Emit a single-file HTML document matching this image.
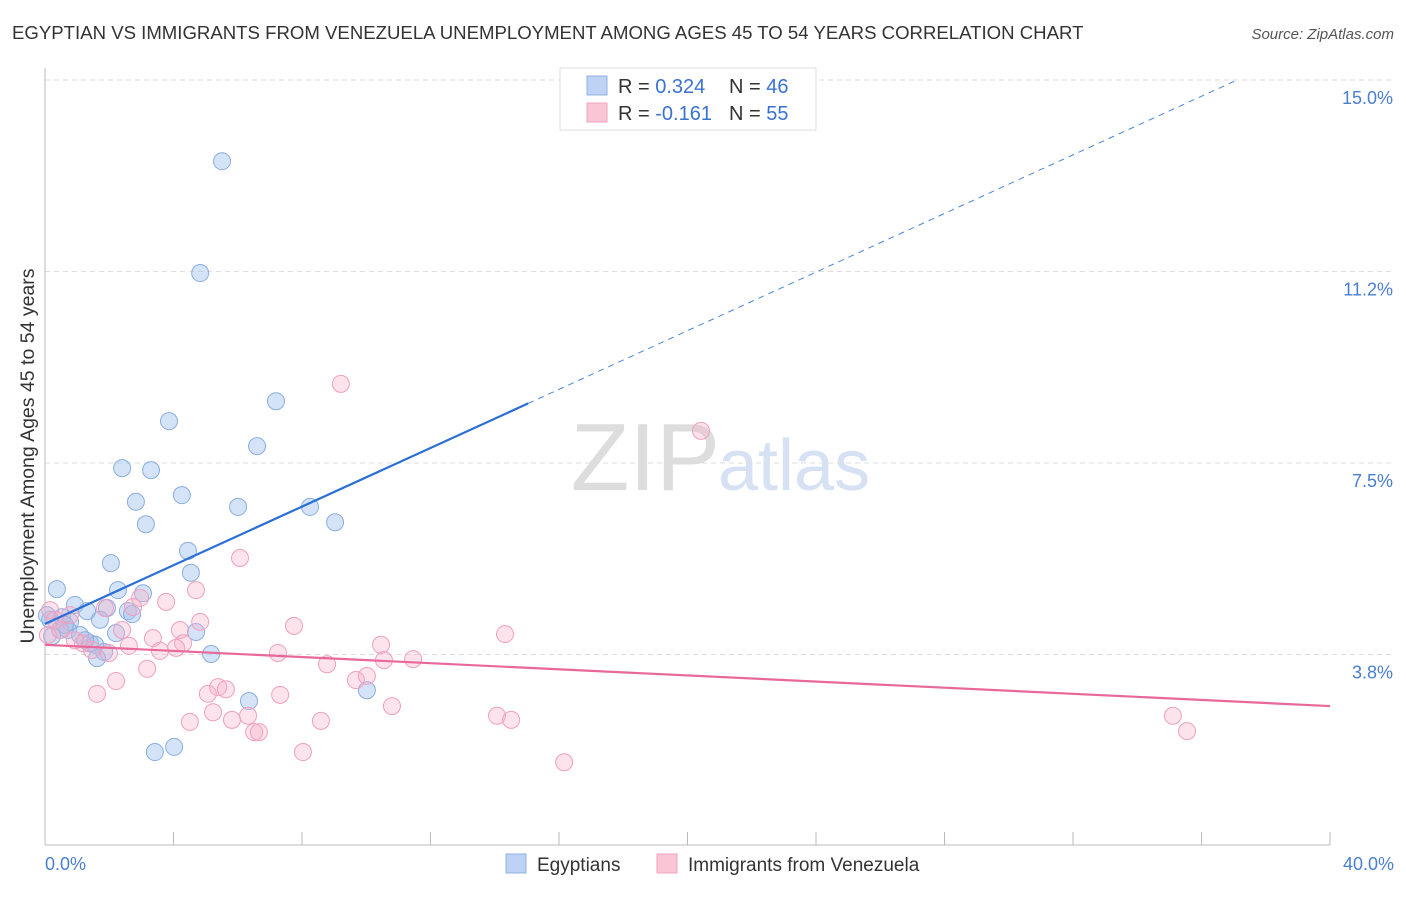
<!DOCTYPE html>
<html><head><meta charset="utf-8"><style>
body{margin:0;background:#fff;font-family:"Liberation Sans",sans-serif;}
svg text{font-family:"Liberation Sans",sans-serif;}
</style></head><body>
<svg id="chart" width="1406" height="892">
<text x="12" y="39" font-size="18.6" fill="#333">EGYPTIAN VS IMMIGRANTS FROM VENEZUELA UNEMPLOYMENT AMONG AGES 45 TO 54 YEARS CORRELATION CHART</text>
<text x="1394" y="39" font-size="15" fill="#555" font-style="italic" text-anchor="end">Source: ZipAtlas.com</text>
<text x="720" y="490" font-size="96" fill="#ddd" font-family="Liberation Serif" text-anchor="end">ZIP</text>
<text x="718" y="490" font-size="72" fill="#d6e2f3">atlas</text>
<g id="grid"></g><g id="axes"></g><g id="marks"></g>
<text transform="translate(34,456) rotate(-90)" font-size="19.5" fill="#333" text-anchor="middle">Unemployment Among Ages 45 to 54 years</text>
<g>
<rect x="560" y="68" width="256" height="62" fill="#fff" stroke="#ddd"/>
<rect x="587" y="76" width="20" height="19" fill="#bcd3f5" stroke="#8fb0e0"/>
<rect x="587" y="103" width="20" height="19" fill="#f9c6d6" stroke="#f0a0be"/>
<text x="618" y="93" font-size="20" fill="#333">R = <tspan fill="#3a72d0">0.324</tspan><tspan x="729">N = </tspan><tspan fill="#3a72d0">46</tspan></text>
<text x="618" y="120" font-size="20" fill="#333">R = <tspan fill="#3a72d0">-0.161</tspan><tspan x="729">N = </tspan><tspan fill="#3a72d0">55</tspan></text>
</g>
<g>
<rect x="506" y="854" width="20" height="19" fill="#bcd3f5" stroke="#8fb0e0"/>
<text x="537" y="871" font-size="19" fill="#333">Egyptians</text>
<rect x="657" y="854" width="20" height="19" fill="#f9c6d6" stroke="#f0a0be"/>
<text x="688" y="871" font-size="19" fill="#333">Immigrants from Venezuela</text>
</g>
</svg>
<script>
const xTickLabels=["0.0%","40.0%"];
const yTicks=[3.75,7.5,11.25,15];
const yTickLabels=["3.8%","7.5%","11.2%","15.0%"];
const blueX=[5.51,4.83,7.19,3.86,6.60,2.40,3.30,4.26,2.83,6.01,8.25,9.03,3.14,4.45,2.05,4.54,0.37,2.27,3.05,0.93,1.93,1.31,2.58,2.71,0.53,1.71,0.16,0.78,0.47,0.72,4.70,2.21,1.09,0.22,1.40,1.56,1.84,5.17,1.62,6.35,10.02,4.02,3.42,1.25,0.06,0.62];
const blueY=[13.41,11.22,8.71,8.32,7.83,7.40,7.36,6.87,6.74,6.64,6.64,6.34,6.30,5.78,5.54,5.35,5.03,5.01,4.95,4.72,4.66,4.60,4.60,4.54,4.48,4.43,4.43,4.39,4.23,4.23,4.19,4.17,4.13,4.11,3.97,3.94,3.80,3.76,3.68,2.84,3.05,1.94,1.84,4.03,4.52,4.33];
const pinkX=[9.21,20.42,6.07,4.70,2.96,3.77,2.74,1.87,4.83,7.75,14.32,2.40,4.20,3.36,4.30,10.46,1.18,2.61,4.08,3.58,7.25,1.99,1.46,8.78,10.55,11.46,3.18,9.68,2.21,5.39,5.63,5.07,1.62,7.32,10.02,10.80,5.23,14.07,35.11,5.82,4.51,6.32,8.59,14.51,35.55,6.51,6.66,8.03,16.16,0.16,0.31,0.78,0.47,0.93,0.09];
const pinkY=[9.05,8.13,5.64,5.01,4.86,4.78,4.68,4.66,4.39,4.31,4.15,4.23,4.23,4.07,3.97,3.94,3.97,3.92,3.88,3.82,3.78,3.78,3.84,3.56,3.64,3.66,3.47,3.25,3.23,3.11,3.07,2.98,2.98,2.96,3.33,2.74,2.62,2.55,2.55,2.47,2.43,2.55,2.45,2.47,2.25,2.23,2.23,1.84,1.64,4.62,4.43,4.52,4.23,4.03,4.13];
const blueTrend=[4.35,0.287];
const pinkTrend=[3.94,-0.03];
const NS="http://www.w3.org/2000/svg";
const X=v=>45+v/40*1285, Y=v=>846-v/15*766;
function mk(tag,at,parent){const e=document.createElementNS(NS,tag);for(const k in at)e.setAttribute(k,at[k]);document.getElementById(parent).appendChild(e);return e;}
yTicks.forEach((t,i)=>{
 const g=mk('line',{x1:45,x2:1394,y1:Y(t),y2:Y(t),stroke:'#ddd','stroke-dasharray':'5,4'},'grid');
 
 
 const l=mk('text',{x:1393,y:Y(t)+24,'font-size':18,fill:'#4a7fd0','text-anchor':'end'},'grid');l.textContent=yTickLabels[i];
 
 
});
mk('line',{x1:45,x2:45,y1:68,y2:845,stroke:'#bbb'},'axes');
const xa=mk('line',{x1:45,x2:1330,y1:845,y2:845,stroke:'#bbb'},'axes');


for(let i=0;i<=10;i++){mk('line',{x1:X(i*4),x2:X(i*4),y1:832,y2:845,stroke:'#bbb'},'axes');}
const xl0=mk('text',{x:45,y:870,'font-size':18,fill:'#4a7fd0'},'axes');xl0.textContent=xTickLabels[0];


const xl1=mk('text',{x:1394,y:870,'font-size':18,fill:'#4a7fd0','text-anchor':'end'},'axes');xl1.textContent=xTickLabels[1];


blueX.forEach((x,i)=>{const c=mk('circle',{cx:X(x),cy:Y(blueY[i]),r:8.5,fill:'rgba(160,192,240,0.45)',stroke:'#8aaee0','stroke-width':1},'marks');
 
 });
pinkX.forEach((x,i)=>{const c=mk('circle',{cx:X(x),cy:Y(pinkY[i]),r:8.5,fill:'rgba(246,176,200,0.35)',stroke:'#f0a0be','stroke-width':1},'marks');
 
 });
const bx1=15.04,bx2=37.04;
const bt=mk('line',{x1:X(0),y1:Y(blueTrend[0]),x2:X(bx1),y2:Y(blueTrend[0]+blueTrend[1]*bx1),stroke:'#2a6fd6','stroke-width':2.2},'marks');


const bd=mk('line',{x1:X(bx1),y1:Y(blueTrend[0]+blueTrend[1]*bx1),x2:X(bx2),y2:Y(blueTrend[0]+blueTrend[1]*bx2),stroke:'#4a85d8','stroke-width':1,'stroke-dasharray':'6,5'},'marks');


const pt=mk('line',{x1:X(0),y1:Y(pinkTrend[0]),x2:X(40),y2:Y(pinkTrend[0]+pinkTrend[1]*40),stroke:'#e8689a','stroke-width':2.2},'marks');


</script>
</body></html>
